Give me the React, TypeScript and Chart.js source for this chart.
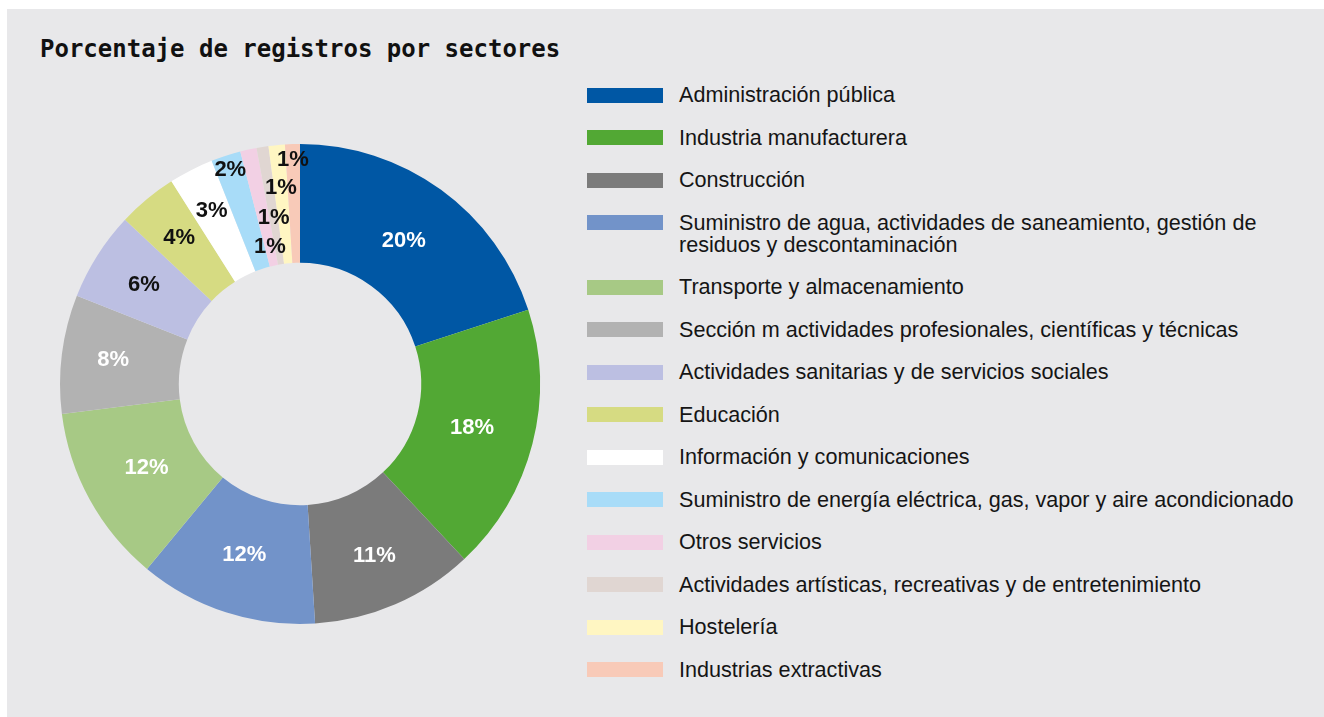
import React, { useEffect, useRef } from "react";
import { Chart, registerables } from "chart.js";

Chart.register(...registerables);

const title = "Porcentaje de registros por sectores";

const sectors = [
  "Administración pública",
  "Industria manufacturera",
  "Construcción",
  "Suministro de agua, actividades de saneamiento, gestión de residuos y descontaminación",
  "Transporte y almacenamiento",
  "Sección m actividades profesionales, científicas y técnicas",
  "Actividades sanitarias y de servicios sociales",
  "Educación",
  "Información y comunicaciones",
  "Suministro de energía eléctrica, gas, vapor y aire acondicionado",
  "Otros servicios",
  "Actividades artísticas, recreativas y de entretenimiento",
  "Hostelería",
  "Industrias extractivas",
];

const shares = [20, 18, 11, 12, 12, 8, 6, 4, 3, 2, 1.1, 0.8, 1.1, 1.0];

const sliceColors = [
  "#0057a4",
  "#52a834",
  "#7b7b7b",
  "#7293c9",
  "#a7c985",
  "#b2b2b2",
  "#bcbfe2",
  "#d6db82",
  "#ffffff",
  "#a8dcf8",
  "#f2d0e4",
  "#e0d6d2",
  "#fff6c2",
  "#f8cab8",
];

const labelColors = [
  "#ffffff", "#ffffff", "#ffffff", "#ffffff", "#ffffff", "#ffffff",
  "#111111", "#111111", "#111111", "#111111", "#111111", "#111111", "#111111", "#111111",
];

// radial position of each value label, as a fraction of the outer radius
const labelRadius = [0.735, 0.74, 0.78, 0.75, 0.73, 0.785, 0.77, 0.79, 0.81, 0.94, 0.585, 0.7, 0.82, 0.935];

// legend lines (second line for wrapped entries)
const legendLines: string[][] = [
  ["Administración pública"],
  ["Industria manufacturera"],
  ["Construcción"],
  ["Suministro de agua, actividades de saneamiento, gestión de", "residuos y descontaminación"],
  ["Transporte y almacenamiento"],
  ["Sección m actividades profesionales, científicas y técnicas"],
  ["Actividades sanitarias y de servicios sociales"],
  ["Educación"],
  ["Información y comunicaciones"],
  ["Suministro de energía eléctrica, gas, vapor y aire acondicionado"],
  ["Otros servicios"],
  ["Actividades artísticas, recreativas y de entretenimiento"],
  ["Hostelería"],
  ["Industrias extractivas"],
];

const sliceLabelPlugin = {
  id: "sliceLabels",
  afterDatasetsDraw(chart: any, _args: any, opts: any) {
    const ctx = chart.ctx;
    const meta = chart.getDatasetMeta(0);
    const data = chart.data.datasets[0].data as number[];
    ctx.save();
    ctx.font = "bold 22px 'Liberation Sans', Arial, sans-serif";
    ctx.textAlign = "center";
    ctx.textBaseline = "middle";
    meta.data.forEach((arc: any, i: number) => {
      const p = arc.getProps(["x", "y", "startAngle", "endAngle", "outerRadius"], true);
      const mid = (p.startAngle + p.endAngle) / 2;
      const r = p.outerRadius * opts.radii[i];
      ctx.fillStyle = opts.colors[i];
      ctx.fillText(Math.round(data[i]) + "%", p.x + Math.cos(mid) * r, p.y + Math.sin(mid) * r);
    });
    ctx.restore();
  },
};

export default function App() {
  const canvasRef = useRef<HTMLCanvasElement>(null);

  useEffect(() => {
    if (!canvasRef.current) return;
    const chart = new Chart(canvasRef.current, {
      type: "doughnut",
      data: {
        labels: sectors,
        datasets: [
          {
            data: shares,
            backgroundColor: sliceColors,
            borderWidth: 0,
          },
        ],
      },
      options: {
        responsive: false,
        maintainAspectRatio: false,
        animation: false,
        events: [],
        cutout: "50.5%",
        layout: { padding: 10 },
        plugins: {
          legend: { display: false },
          tooltip: { enabled: false },
          title: { display: false },
          sliceLabels: { radii: labelRadius, colors: labelColors },
        } as any,
      },
      plugins: [sliceLabelPlugin],
    });
    return () => chart.destroy();
  }, []);

  return (
    <div>
      <div
        style={{
          position: "absolute",
          left: 7,
          top: 9,
          width: 1317,
          height: 708,
          background: "#e8e8ea",
        }}
      />
      <div
        style={{
          position: "absolute",
          left: 40,
          top: 37,
          font: "bold 24px/24px 'DejaVu Sans Mono', monospace",
          color: "#111111",
          whiteSpace: "nowrap",
        }}
      >
        {title}
      </div>
      <canvas
        ref={canvasRef}
        width={500}
        height={500}
        style={{ position: "absolute", left: 50, top: 134, width: 500, height: 500 }}
      />
      <div
        style={{
          position: "absolute",
          left: 587,
          top: 84,
          font: "21.6px/22px 'Liberation Sans', Arial, sans-serif",
          color: "#151515",
        }}
      >
        {legendLines.map((lines, i) => (
          <div key={i} style={{ display: "flex", alignItems: "flex-start", marginBottom: 20.5 }}>
            <div
              style={{
                width: 76,
                height: 15,
                marginTop: 3.5,
                background: sliceColors[i],
                flex: "none",
              }}
            />
            <div style={{ marginLeft: 16, whiteSpace: "nowrap" }}>
              {lines.map((l, j) => (
                <div key={j}>{l}</div>
              ))}
            </div>
          </div>
        ))}
      </div>
    </div>
  );
}
